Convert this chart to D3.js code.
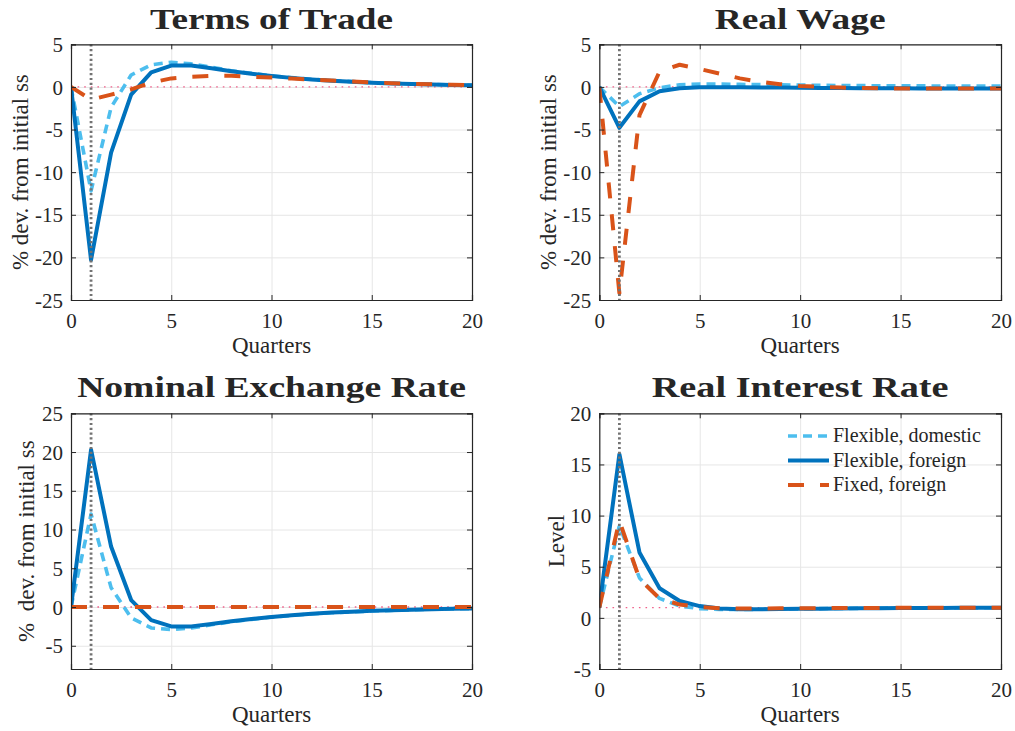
<!DOCTYPE html>
<html><head><meta charset="utf-8">
<script src="https://cdn.jsdelivr.net/npm/d3@7"></script>
<style>
html,body{margin:0;padding:0;background:#fff;}
svg{display:block;}
text{font-family:"Liberation Serif","Times New Roman",serif;fill:#262626;}
</style></head>
<body>
<svg id="chart" width="1015" height="731"></svg>
<script>
// ---------- data ----------
const quarters = [0,1,2,3,4,5,6,7,8,9,10,11,12,13,14,15,16,17,18,19,20];
const seriesNames = ["Flexible, domestic","Flexible, foreign","Fixed, foreign"];
const panelTitles = ["Terms of Trade","Real Wage","Nominal Exchange Rate","Real Interest Rate"];
const yLabels = ["% dev. from initial ss","% dev. from initial ss","%  dev. from initial ss","Level"];
const xLabel = "Quarters";
const xTicks = [0,5,10,15,20];
const yTicksTot = [-25,-20,-15,-10,-5,0,5];
const yTicksRw  = [-25,-20,-15,-10,-5,0,5];
const yTicksNer = [-5,0,5,10,15,20,25];
const yTicksRir = [-5,0,5,10,15,20];
const yDomTot = [-25,5], yDomRw = [-25,5], yDomNer = [-8,25], yDomRir = [-5,20];
const steadyStates = [0,0,0,1];
const shockQuarter = 1;

const totFlexDom = [0,-12.2,-2.4,1.4,2.6,2.9,2.7,2.3,1.9,1.6,1.3,1.1,0.9,0.75,0.62,0.52,0.43,0.36,0.29,0.24,0.2];
const totFlexFor = [0,-20.3,-7.7,-0.9,1.7,2.5,2.5,2.2,1.85,1.55,1.28,1.06,0.87,0.72,0.6,0.49,0.41,0.34,0.28,0.23,0.19];
const totFixFor  = [0,-1.5,-0.9,-0.3,0.5,1.0,1.2,1.3,1.3,1.2,1.1,0.98,0.86,0.74,0.63,0.53,0.44,0.37,0.3,0.25,0.2];

const rwFlexDom = [0,-2.3,-0.8,-0.1,0.25,0.33,0.33,0.3,0.27,0.24,0.21,0.19,0.17,0.15,0.14,0.13,0.12,0.11,0.1,0.1,0.1];
const rwFlexFor = [0,-4.8,-1.7,-0.5,-0.15,-0.05,-0.03,-0.04,-0.06,-0.08,-0.1,-0.12,-0.14,-0.15,-0.16,-0.17,-0.18,-0.19,-0.19,-0.2,-0.2];
const rwFixFor  = [0,-24.2,-3.3,1.8,2.6,2.1,1.55,1.0,0.6,0.32,0.12,0,-0.08,-0.13,-0.16,-0.18,-0.19,-0.2,-0.2,-0.2,-0.2];

const nerFlexDom = [0,12,2.5,-1.4,-2.7,-2.9,-2.7,-2.3,-1.9,-1.6,-1.3,-1.1,-0.9,-0.75,-0.62,-0.52,-0.43,-0.36,-0.29,-0.24,-0.2];
const nerFlexFor = [0,20.3,7.8,0.9,-1.7,-2.5,-2.5,-2.2,-1.85,-1.55,-1.28,-1.06,-0.87,-0.72,-0.6,-0.49,-0.41,-0.34,-0.28,-0.23,-0.19];
const nerFixFor  = [0,0,0,0,0,0,0,0,0,0,0,0,0,0,0,0,0,0,0,0,0];

const rirFlexDom = [1,9.0,3.9,1.9,1.15,0.9,0.83,0.82,0.84,0.86,0.88,0.9,0.92,0.93,0.95,0.96,0.97,0.97,0.98,0.98,0.99];
const rirFlexFor = [1,16.0,6.4,2.9,1.65,1.15,0.92,0.85,0.84,0.86,0.88,0.9,0.92,0.93,0.95,0.96,0.97,0.97,0.98,0.98,0.99];
const rirFixFor  = [1,9.5,3.8,1.9,1.3,1.05,0.95,0.92,0.92,0.93,0.94,0.95,0.96,0.97,0.97,0.98,0.98,0.99,0.99,0.99,1.0];

// ---------- layout / style ----------
const seriesStyle = [
  {color:"#4DBEEE", width:3.6, dash:"9,6"},
  {color:"#0072BD", width:4,   dash:null},
  {color:"#D95319", width:4,   dash:"16,16"}
];
const panels = [
  {title:panelTitles[0], ylab:yLabels[0], data:[totFlexDom,totFlexFor,totFixFor], dom:yDomTot, ticks:yTicksTot,
   x0:71, x1:472, y0:44.3, y1:300, titleW:243, titleY:29.3, ylabX:28},
  {title:panelTitles[1], ylab:yLabels[1], data:[rwFlexDom,rwFlexFor,rwFixFor], dom:yDomRw, ticks:yTicksRw,
   x0:599.3, x1:1001, y0:44.3, y1:300, titleW:171, titleY:29.3, ylabX:556},
  {title:panelTitles[2], ylab:yLabels[2], data:[nerFlexDom,nerFlexFor,nerFixFor], dom:yDomNer, ticks:yTicksNer,
   x0:71, x1:472, y0:413.3, y1:669, titleW:389, titleY:397.3, ylabX:33.5},
  {title:panelTitles[3], ylab:yLabels[3], data:[rirFlexDom,rirFlexFor,rirFixFor], dom:yDomRir, ticks:yTicksRir,
   x0:599.3, x1:1001, y0:413.3, y1:669, titleW:297, titleY:397.3, ylabX:563.5, legend:true}
];

const svg = d3.select("#chart");
const fmt = d => String(d);

panels.forEach((p, i) => {
  const x = d3.scaleLinear().domain([0,20]).range([p.x0, p.x1]);
  const y = d3.scaleLinear().domain(p.dom).range([p.y1, p.y0]);
  const g = svg.append("g");
  const W = p.x1 - p.x0, H = p.y1 - p.y0;

  svg.append("clipPath").attr("id","clip"+i).append("rect")
    .attr("x",p.x0).attr("y",p.y0).attr("width",W).attr("height",H);

  // grid
  const gx = g.append("g").attr("transform",`translate(0,${p.y1})`)
    .call(d3.axisBottom(x).tickValues(xTicks).tickSize(-H).tickFormat(""));
  const gy = g.append("g").attr("transform",`translate(${p.x0},0)`)
    .call(d3.axisLeft(y).tickValues(p.ticks).tickSize(-W).tickFormat(""));
  [gx,gy].forEach(a => { a.select(".domain").remove(); a.selectAll("line").attr("stroke","#e6e6e6").attr("stroke-width",1); });

  const plot = g.append("g").attr("clip-path",`url(#clip${i})`);
  plot.append("line").attr("x1",p.x0).attr("x2",p.x1)
    .attr("y1",y(steadyStates[i])).attr("y2",y(steadyStates[i]))
    .attr("stroke","#f0608a").attr("stroke-width",1.3).attr("stroke-dasharray","1.6,5");

  const line = d3.line().x((d,k)=>x(quarters[k])).y(d=>y(d));
  p.data.forEach((s, k) => {
    const st = seriesStyle[k];
    plot.append("path").datum(s).attr("d", line)
      .attr("fill","none").attr("stroke",st.color).attr("stroke-width",st.width)
      .attr("stroke-dasharray", st.dash).attr("stroke-linejoin","round");
  });

  plot.append("line").attr("x1",x(shockQuarter)).attr("x2",x(shockQuarter))
    .attr("y1",p.y0).attr("y2",p.y1)
    .attr("stroke","#737373").attr("stroke-width",2.8).attr("stroke-dasharray","2.2,2.6");

  const axB = g.append("g").attr("transform",`translate(0,${p.y1})`)
    .call(d3.axisBottom(x).tickValues(xTicks).tickSize(-5).tickPadding(13).tickFormat(fmt));
  const axT = g.append("g").attr("transform",`translate(0,${p.y0})`)
    .call(d3.axisTop(x).tickValues(xTicks).tickSize(-5).tickFormat(""));
  const axL = g.append("g").attr("transform",`translate(${p.x0},0)`)
    .call(d3.axisLeft(y).tickValues(p.ticks).tickSize(-5).tickPadding(8).tickFormat(fmt));
  const axR = g.append("g").attr("transform",`translate(${p.x1},0)`)
    .call(d3.axisRight(y).tickValues(p.ticks).tickSize(-5).tickFormat(""));
  [axB,axT,axL,axR].forEach(a => {
    a.attr("font-family",'"Liberation Serif",serif').attr("font-size",21);
    a.select(".domain").attr("stroke","#262626").attr("stroke-width",1.2);
    a.selectAll("line").attr("stroke","#262626").attr("stroke-width",1);
    a.selectAll("text").style("font-family",'"Liberation Serif",serif').style("font-size","21px").attr("fill","#262626");
  });
  axB.selectAll("text").attr("dy",null).attr("y", 27.5);
  axL.selectAll("text").attr("dy","0.34em");

  // title: glyphs widened horizontally (bold extended look)
  const cx = (p.x0+p.x1)/2;
  const tt = svg.append("text").attr("x",0).attr("y",0)
    .attr("text-anchor","middle")
    .style("font-size","30px").style("font-weight","bold").attr("fill","#000").text(p.title);
  const nat = tt.node().getComputedTextLength();
  const sx = p.titleW / nat;
  tt.attr("transform",`translate(${cx},${p.titleY}) scale(${sx},1)`);

  svg.append("text").attr("x",cx).attr("y",p.y1+52.5)
    .attr("text-anchor","middle").style("font-size","23px").text(xLabel);
  svg.append("text").attr("transform",`translate(${p.ylabX},${(p.y0+p.y1)/2}) rotate(-90)`)
    .attr("text-anchor","middle").style("font-size","23px").style("white-space","pre").text(p.ylab);

  if (p.legend) {
    const lg = svg.append("g");
    const rowsY = [436, 460.5, 485];
    seriesNames.forEach((nm, k) => {
      const st = seriesStyle[k];
      lg.append("line").attr("x1",788).attr("x2",829).attr("y1",rowsY[k]).attr("y2",rowsY[k])
        .attr("stroke",st.color).attr("stroke-width",st.width).attr("stroke-dasharray",st.dash);
      lg.append("text").attr("x",833).attr("y",rowsY[k]+6).style("font-size","20px").text(nm);
    });
  }
});
</script>
</body></html>
